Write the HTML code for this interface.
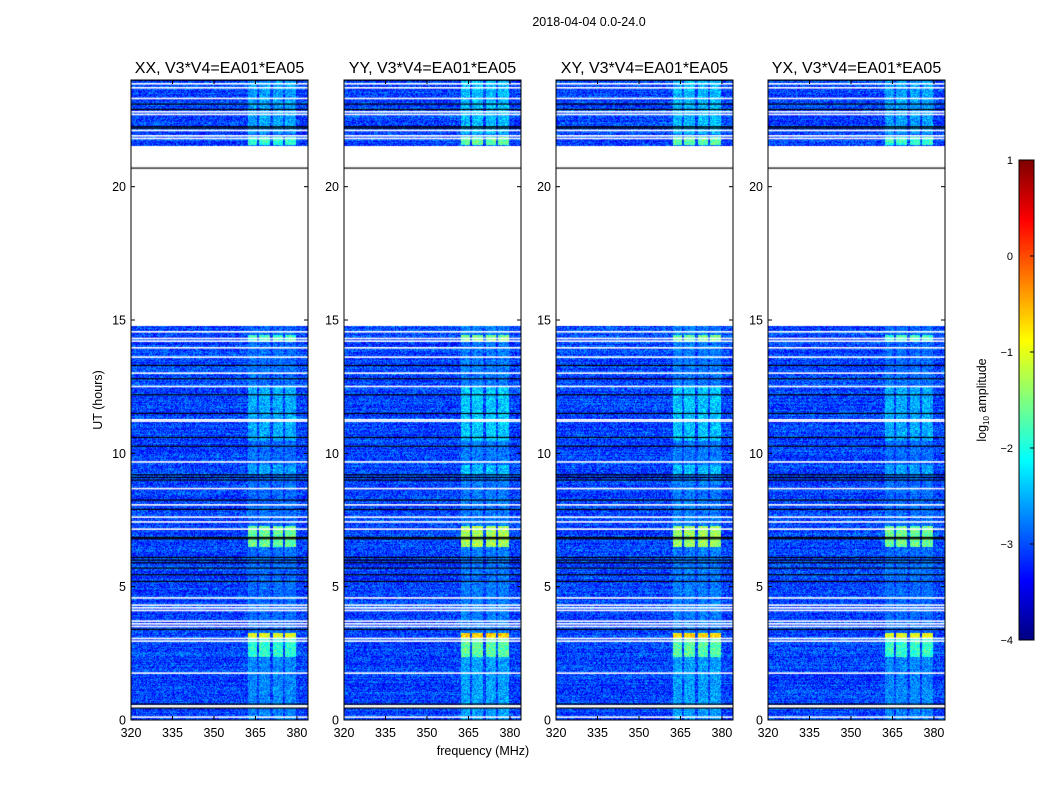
<!DOCTYPE html>
<html><head><meta charset="utf-8"><style>
body{margin:0;background:#fff;}
#wrap{position:relative;width:1050px;height:800px;overflow:hidden;font-family:"Liberation Sans",sans-serif;}
canvas{position:absolute;}
svg{position:absolute;left:0;top:0;}
</style></head><body>
<div id="wrap">
<svg id="ov" width="1050" height="800"></svg>
</div>
<script>
const panelNames = ['XX, V3*V4=EA01*EA05','YY, V3*V4=EA01*EA05','XY, V3*V4=EA01*EA05','YX, V3*V4=EA01*EA05'];
const bandGain = [1.0, 1.12, 1.1, 1.0];
const xTicks = [320,335,350,365,380];
const yTicks = [0,5,10,15,20];
const cbTicks = [1,0,-1,-2,-3,-4];
const dataRanges = [[0,0.45],[0.6,14.8],[21.55,24]];
const whiteRows = [0.1,1.75,2.95,3.05,3.5,3.6,3.7,4.1,4.2,4.3,4.57,7.15,7.42,7.6,8.06,8.67,9.67,11.2,11.25,12.5,13.0,13.6,13.95,14.2,14.3,14.55,21.8,21.9,22.1,22.7,22.8,23.3,23.7,23.85];
const blackRows = [0.45,0.6,3.4,5.2,5.45,5.7,5.9,6.0,6.1,6.8,6.85,7.9,8.25,9.0,9.1,9.2,10.27,10.6,11.5,12.2,12.8,13.3,22.2,22.25,22.9,23.1,24];
const channelBands = [[362,365.5],[366,370],[371,374.8],[375.6,379.5]];
const events = [[0,2.4,-2.75],[2.4,3.1,-1.9],[3.1,3.3,-1.0],[6.5,7.3,-1.6],[9.2,9.6,-2.6],[10.5,12.5,-2.55],[14.2,14.45,-1.8],[21.6,21.9,-1.9],[22,24,-2.6]];
const bgLevel = -3.05, bandBase = -2.95;

const PX=[131,344,556,768], PT=80, PW=177, PH=640;
const fx = f => (f-320)*PW/64;
const hy = h => PH - h*PH/24;
function hash(a,b,c){let h=(a*374761393+b*668265263+c*2147483647)|0;h=(h^(h>>>13))*1274126177|0;h=h^(h>>>16);return ((h>>>0)%10000)/10000;}
function jet(v){let t=Math.max(0,Math.min(1,(v+4)/5));
 const r=Math.max(0,Math.min(1,1.5-Math.abs(4*t-3))),g=Math.max(0,Math.min(1,1.5-Math.abs(4*t-2))),b=Math.max(0,Math.min(1,1.5-Math.abs(4*t-1)));
 return [r*255,g*255,b*255];}
const wrap=document.getElementById('wrap');
const svgNS='http://www.w3.org/2000/svg';
const ov=document.getElementById('ov');
function el(tag,attrs,txt){const e=document.createElementNS(svgNS,tag);for(const k in attrs)e.setAttribute(k,attrs[k]);if(txt!==undefined)e.textContent=txt;ov.appendChild(e);return e;}

panelNames.forEach((name,p)=>{
 const c=document.createElement('canvas');c.width=PW;c.height=PH;c.style.left=PX[p]+'px';c.style.top=PT+'px';
 
 
 wrap.insertBefore(c,ov);
 const ctx=c.getContext('2d');const img=ctx.createImageData(PW,PH);
 for(let y=0;y<PH;y++){const h=(PH-y)*24/PH;
  const inData=dataRanges.some(r=>h>=r[0]&&h<=r[1]);
  const rowOff=(hash(y,7,p)-0.5)*0.3;
  for(let x=0;x<PW;x++){const i=(y*PW+x)*4;
   if(!inData){img.data[i]=img.data[i+1]=img.data[i+2]=255;img.data[i+3]=255;continue;}
   const f=320+x*64/PW;let v=bgLevel+rowOff+(hash(x,y,p)-0.5)*0.9;
   const inBand=channelBands.some(b=>f>=b[0]&&f<=b[1]);
   if(inBand){let lvl=bandBase;
    events.forEach(e=>{if(h>=e[0]&&h<e[1])lvl=e[2];});lvl=-4+(lvl+4)*bandGain[p];if(lvl>-0.5)lvl=-0.5;
    v=Math.max(v,lvl+(hash(x,y,p+9)-0.5)*0.8);}
   const col=jet(v);img.data[i]=col[0];img.data[i+1]=col[1];img.data[i+2]=col[2];img.data[i+3]=255;}}
 ctx.putImageData(img,0,0);
 ctx.fillStyle='#fff';whiteRows.forEach(h=>ctx.fillRect(0,hy(h)-1,PW,1.6));
 ctx.fillStyle='#000';blackRows.forEach(h=>ctx.fillRect(0,hy(h)-0.5,PW,1.2));
 ctx.fillRect(0,hy(20.7)-0.5,PW,1.2);
 const x0=PX[p];
 el('rect',{x:x0,y:PT,width:PW,height:PH,fill:'none',stroke:'#000','stroke-width':1,});
 el('text',{x:x0+PW/2,y:73,'text-anchor':'middle','font-size':16,},name);
 xTicks.forEach(t=>{const x=x0+fx(t);
  el('line',{x1:x,x2:x,y1:PT,y2:PT+4,stroke:'#000',});
  el('line',{x1:x,x2:x,y1:PT+PH,y2:PT+PH-4,stroke:'#000',});
  el('text',{x:x,y:737,'text-anchor':'middle','font-size':12.5,},t);});
 yTicks.forEach(t=>{const y=PT+hy(t);
  el('line',{x1:x0,x2:x0+4,y1:y,y2:y,stroke:'#000',});
  el('line',{x1:x0+PW,x2:x0+PW-4,y1:y,y2:y,stroke:'#000',});
  el('text',{x:x0-5,y:y+4.5,'text-anchor':'end','font-size':12.5,},t);});
});
el('text',{x:589,y:26,'text-anchor':'middle','font-size':12.5,},'2018-04-04 0.0-24.0');
el('text',{x:483,y:755,'text-anchor':'middle','font-size':12.5,},'frequency (MHz)');
el('text',{x:102,y:400,'text-anchor':'middle','font-size':12.5,transform:'rotate(-90 102 400)',},'UT (hours)');
const cb=document.createElement('canvas');cb.width=15;cb.height=480;cb.style.left='1019px';cb.style.top='160px';


wrap.insertBefore(cb,ov);
const cctx=cb.getContext('2d');
for(let y=0;y<480;y++){const v=1-y*5/480;const col=jet(v);cctx.fillStyle=`rgb(${col[0]|0},${col[1]|0},${col[2]|0})`;cctx.fillRect(0,y,15,1);}
el('rect',{x:1019,y:160,width:15,height:480,fill:'none',stroke:'#000',});
cbTicks.forEach(t=>{const y=160+(1-t)*480/5;
 el('line',{x1:1030,x2:1034,y1:y,y2:y,stroke:'#000',});
 el('text',{x:1013,y:y+4,'text-anchor':'end','font-size':11,},t<0?'\u2212'+(-t):t);});
const lb=el('text',{x:986,y:400,'text-anchor':'middle','font-size':12.5,transform:'rotate(-90 986 400)',});
lb.innerHTML='log<tspan font-size="8" dy="3">10</tspan><tspan dy="-3"> amplitude</tspan>';
</script>
</body></html>
